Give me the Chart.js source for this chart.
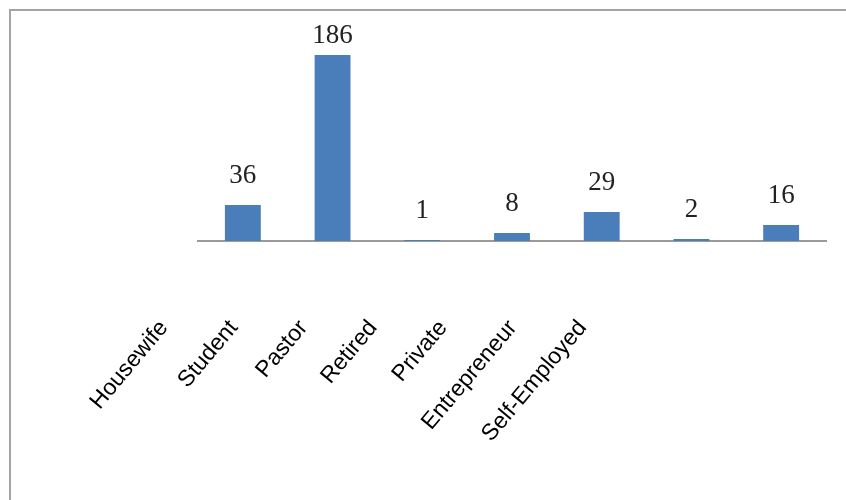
<!DOCTYPE html>
<html>
<head>
<meta charset="utf-8">
<script src="https://cdn.jsdelivr.net/npm/chart.js@4"></script>
<style>
  html, body { margin: 0; padding: 0; background: #fff; }
  #wrap { position: relative; width: 846px; height: 500px; }
  #frame {
    position: absolute; left: 9px; top: 9px; right: 0; bottom: 0;
    border-top: 2px solid #a4a4a4; border-left: 2px solid #a4a4a4;
    pointer-events: none;
  }
</style>
</head>
<body>
<div id="wrap">
  <canvas id="chart" width="846" height="500"></canvas>
  <div id="frame"></div>
</div>
<script>
// data
const occupations = ['Housewife', 'Student', 'Pastor', 'Retired', 'Private', 'Entrepreneur', 'Self-Employed'];
const counts = [36, 186, 1, 8, 29, 2, 16];
// the category names sit on their own, tighter row under the axis
const nameRow = occupations.concat(['', '']);

// numbers above the bars
const valueLabels = {
  id: 'valueLabels',
  afterDatasetsDraw(chart) {
    const ctx = chart.ctx;
    const meta = chart.getDatasetMeta(0);
    ctx.save();
    ctx.font = '27px "Liberation Serif", "Times New Roman", serif';
    ctx.fillStyle = '#222';
    ctx.textAlign = 'center';
    ctx.textBaseline = 'alphabetic';
    meta.data.forEach((bar, i) => {
      const y = Math.max(bar.y - 22, chart.chartArea.top + 2);
      ctx.fillText(String(counts[i]), bar.x, y);
    });
    ctx.restore();
  }
};

new Chart(document.getElementById('chart'), {
  type: 'bar',
  data: {
    labels: occupations,
    datasets: [{
      data: counts,
      backgroundColor: '#4a7ebb',
      borderWidth: 0,
      barPercentage: 0.4,
      categoryPercentage: 1.0
    }]
  },
  options: {
    responsive: false,
    animation: false,
    layout: { padding: { left: 198, right: 20, top: 41, bottom: 20 } },
    plugins: {
      legend: { display: false },
      tooltip: { enabled: false }
    },
    scales: {
      y: {
        display: false,
        min: 0,
        max: 200
      },
      x: {
        position: 'bottom',
        weight: 0,
        offset: true,
        grid: { display: false, drawTicks: false },
        ticks: { display: false },
        border: { display: true, color: '#9a9a9a', width: 2 },
        afterFit(scale) { scale.height = 0; }
      },
      names: {
        type: 'category',
        labels: nameRow,
        position: 'bottom',
        weight: 1,
        offset: true,
        grid: { display: false, drawTicks: false },
        border: { display: false },
        ticks: {
          autoSkip: false,
          minRotation: 50,
          maxRotation: 50,
          padding: 74,
          labelOffset: -69,
          color: '#000',
          font: { family: '"Liberation Sans", Arial, sans-serif', size: 23 }
        },
        afterFit(scale) {
          scale.height = 239;
          // keep the long rotated names from shrinking the plot width
          scale.paddingLeft = 0;
          scale.paddingRight = 0;
        }
      }
    }
  },
  plugins: [valueLabels]
});
</script>
</body>
</html>
